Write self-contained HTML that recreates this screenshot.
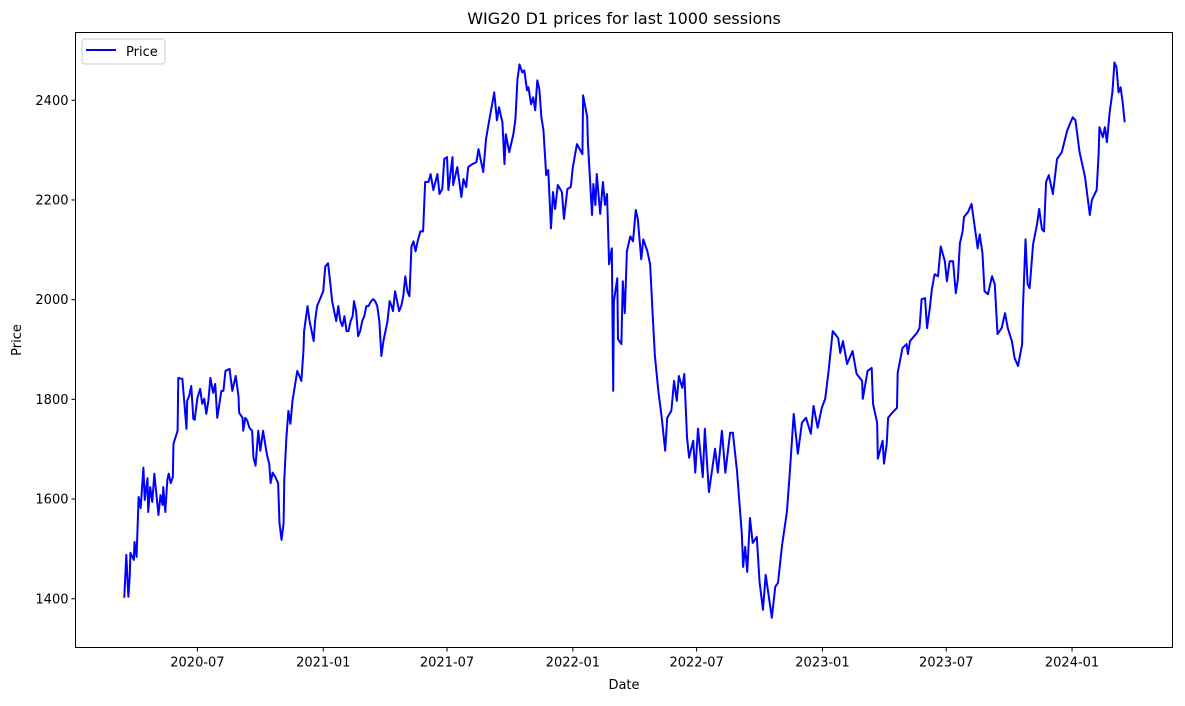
<!DOCTYPE html>
<html><head><meta charset="utf-8"><style>
html,body{margin:0;padding:0;background:#fff;}
svg text{font-family:"DejaVu Sans","Liberation Sans",sans-serif;fill:#000;}
</style></head><body>
<svg id="chart" width="1185" height="701" xmlns="http://www.w3.org/2000/svg">
<rect x="0" y="0" width="1185" height="701" fill="#fff"/>
<text x="624" y="24" font-size="16" text-anchor="middle">WIG20 D1 prices for last 1000 sessions</text>
<g id="plot"></g>
<rect x="75.5" y="32.5" width="1097" height="615" fill="none" stroke="#000" stroke-width="1"/>
<text x="624" y="689" font-size="13" text-anchor="middle">Date</text>
<text x="21" y="340" font-size="13" text-anchor="middle" transform="rotate(-90 21 340)">Price</text>
<g>
<rect x="82" y="39" width="83" height="25" rx="3" fill="#fff" stroke="#ccc" stroke-width="1"/>
<line x1="86" y1="50" x2="116" y2="50" stroke="#0000ff" stroke-width="2"/>
<text x="126" y="56" font-size="13">Price</text>
</g>
</svg>
<script>
// days since 2020-01-01 for each sampled session
const dayIndex = [75,78,81,83,84,89,90,93,96,99,103,105,109,110,113,116,119,125,128,131,132,135,138,140,143,146,147,153,154,160,166,167,170,173,176,178,182,186,189,192,195,198,201,205,208,211,217,220,223,229,233,238,242,243,248,249,252,255,258,262,264,267,271,274,278,281,284,287,289,292,296,300,302,305,308,309,312,315,318,321,325,328,334,337,338,343,346,349,352,354,357,360,363,366,369,373,376,379,382,385,388,391,394,397,400,403,406,409,411,414,417,420,423,426,429,432,436,439,442,445,448,451,454,457,460,463,466,468,471,474,477,480,483,486,489,492,495,498,501,504,508,512,515,520,523,527,533,536,540,543,547,549,555,556,562,568,571,575,578,584,590,593,600,604,610,613,616,620,623,628,631,633,638,644,647,650,653,657,660,664,666,670,673,676,679,682,685,688,692,695,699,702,705,709,715,718,723,728,731,737,745,746,752,753,759,761,764,766,771,775,778,781,784,788,790,791,796,797,802,804,807,810,815,819,823,826,831,834,840,844,848,851,856,861,866,869,875,879,883,886,891,894,898,901,907,910,914,921,924,930,939,943,949,954,961,965,971,978,980,983,986,990,994,1000,1004,1009,1013,1022,1027,1031,1037,1044,1048,1054,1060,1066,1072,1079,1083,1089,1095,1100,1105,1111,1119,1122,1126,1132,1140,1146,1154,1155,1162,1168,1170,1176,1177,1184,1186,1190,1192,1198,1205,1206,1213,1219,1221,1224,1234,1238,1241,1246,1249,1253,1256,1260,1265,1269,1275,1278,1282,1287,1291,1294,1297,1301,1303,1309,1314,1319,1323,1326,1330,1333,1338,1344,1348,1352,1358,1363,1367,1373,1377,1382,1388,1389,1393,1396,1399,1404,1410,1413,1417,1420,1423,1427,1433,1439,1446,1454,1462,1466,1472,1480,1487,1490,1497,1500,1501,1506,1509,1512,1516,1520,1523,1526,1529,1532,1535,1538];
const priceValues = [1402,1488,1404,1444,1492,1478,1514,1484,1604,1582,1663,1598,1642,1574,1624,1594,1651,1568,1608,1588,1624,1574,1638,1651,1632,1644,1711,1737,1843,1841,1741,1797,1807,1827,1761,1759,1803,1821,1791,1801,1771,1797,1843,1813,1831,1763,1817,1817,1857,1861,1817,1847,1807,1773,1763,1737,1763,1757,1743,1737,1683,1667,1737,1697,1737,1711,1687,1671,1632,1653,1644,1632,1552,1518,1552,1638,1721,1777,1751,1797,1831,1857,1837,1897,1937,1987,1957,1937,1917,1957,1987,1997,2007,2017,2067,2073,2037,1997,1977,1957,1987,1957,1947,1967,1937,1937,1957,1967,1997,1977,1927,1937,1957,1967,1987,1987,1997,2001,1997,1987,1957,1887,1917,1937,1957,1997,1987,1977,2017,1997,1977,1987,2007,2047,2017,2007,2107,2117,2097,2117,2137,2137,2236,2236,2252,2220,2252,2212,2222,2282,2286,2220,2286,2230,2266,2206,2242,2226,2266,2272,2276,2302,2256,2322,2370,2392,2416,2360,2386,2356,2272,2332,2296,2332,2362,2442,2472,2456,2460,2420,2426,2392,2406,2380,2440,2422,2366,2340,2250,2260,2143,2216,2182,2230,2216,2162,2222,2226,2266,2312,2292,2410,2366,2316,2170,2232,2190,2252,2172,2236,2190,2212,2071,2103,1817,1997,2043,1921,1911,2037,1973,2097,2127,2117,2180,2162,2081,2121,2097,2071,1963,1887,1817,1763,1697,1763,1777,1837,1797,1847,1823,1851,1723,1683,1717,1653,1741,1644,1741,1614,1701,1653,1737,1653,1733,1733,1657,1532,1464,1504,1454,1562,1512,1524,1434,1378,1448,1362,1424,1432,1508,1574,1648,1771,1691,1753,1763,1731,1787,1743,1783,1801,1857,1937,1923,1893,1917,1871,1897,1851,1837,1801,1857,1863,1791,1753,1681,1717,1671,1711,1763,1773,1783,1853,1903,1911,1891,1917,1933,1943,2001,2003,1943,1983,2021,2051,2047,2107,2077,2037,2077,2077,2013,2041,2113,2137,2166,2176,2192,2143,2103,2131,2093,2017,2011,2047,2031,1931,1943,1973,1943,1917,1883,1867,1911,1977,2121,2031,2023,2111,2153,2182,2141,2137,2236,2250,2212,2282,2296,2340,2366,2360,2296,2246,2170,2200,2220,2296,2346,2326,2346,2316,2376,2416,2476,2466,2416,2426,2396,2356];
const xTickDays = [182,366,547,731,912,1096,1277,1461];
const xTickLabels = ["2020-07","2021-01","2021-07","2022-01","2022-07","2023-01","2023-07","2024-01"];
const yTickValues = [1400,1600,1800,2000,2200,2400];

const NS = "http://www.w3.org/2000/svg";
const L = 75.5, R = 1172.5, T = 32.5, B = 647.5;
const dayMin = 3.7, dayMax = 1607.9, yMin = 1302.2, yMax = 2536.0;
function xScale(d){ return L + (d - dayMin) / (dayMax - dayMin) * (R - L); }
function yScale(v){ return B - (v - yMin) / (yMax - yMin) * (B - T); }

const svg = document.getElementById('chart');
const plot = document.getElementById('plot');

yTickValues.forEach(v => {
  const y = yScale(v);
  const ln = document.createElementNS(NS, 'line');
  ln.setAttribute('x1', L - 4); ln.setAttribute('x2', L);
  ln.setAttribute('y1', y); ln.setAttribute('y2', y);
  ln.setAttribute('stroke', '#000');
  
  
  svg.appendChild(ln);
  const t = document.createElementNS(NS, 'text');
  t.setAttribute('x', L - 7); t.setAttribute('y', y + 4.5);
  t.setAttribute('font-size', '13'); t.setAttribute('text-anchor', 'end');
  t.textContent = v;
  
  
  svg.appendChild(t);
});

xTickDays.forEach((d, i) => {
  const x = xScale(d);
  const ln = document.createElementNS(NS, 'line');
  ln.setAttribute('x1', x); ln.setAttribute('x2', x);
  ln.setAttribute('y1', B); ln.setAttribute('y2', B + 4);
  ln.setAttribute('stroke', '#000');
  
  
  svg.appendChild(ln);
  const t = document.createElementNS(NS, 'text');
  t.setAttribute('x', x); t.setAttribute('y', B + 19);
  t.setAttribute('font-size', '13'); t.setAttribute('text-anchor', 'middle');
  t.textContent = xTickLabels[i];
  
  
  svg.appendChild(t);
});

let dstr = '';
dayIndex.forEach((d, i) => {
  dstr += (i ? 'L' : 'M') + xScale(d).toFixed(2) + ',' + yScale(priceValues[i]).toFixed(2);
});
const path = document.createElementNS(NS, 'path');
path.setAttribute('d', dstr);
path.setAttribute('fill', 'none');
path.setAttribute('stroke', '#0000ff');
path.setAttribute('stroke-width', '2');
path.setAttribute('stroke-linejoin', 'round');


plot.appendChild(path);
</script>
</body></html>
